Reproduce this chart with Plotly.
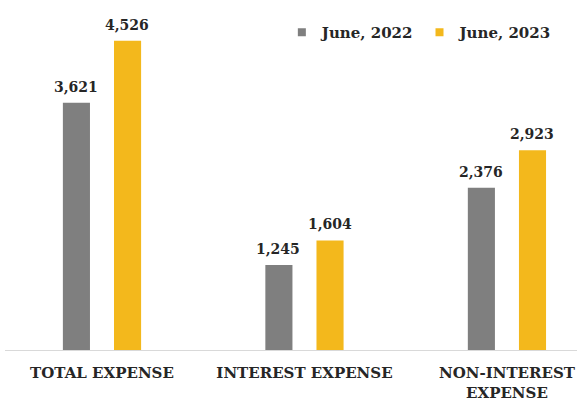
import plotly.graph_objects as go

# Expense comparison, June 2022 vs June 2023
categories = ["TOTAL EXPENSE", "INTEREST EXPENSE", "NON-INTEREST<br>EXPENSE"]
series_names = ["June, 2022", "June, 2023"]
values_2022 = [3621, 1245, 2376]
values_2023 = [4526, 1604, 2923]

colors = ["#7f7f7f", "#f3b81c"]
font_family = "DejaVu Serif"
text_color = "#262626"

fig = go.Figure()
for name, vals, col in zip(series_names, [values_2022, values_2023], colors):
    fig.add_trace(go.Bar(
        x=categories, y=vals, name=name, marker_color=col,
        marker_line_width=0, showlegend=False,
    ))
    # legend entries with small square swatches
    fig.add_trace(go.Scatter(
        x=[None], y=[None], mode="markers", name=name,
        marker=dict(symbol="square", size=8, color=col),
        showlegend=True,
    ))

# value labels above each bar
for vals, shift in [(values_2022, -26), (values_2023, 25.5)]:
    for cat, v in zip(categories, vals):
        fig.add_annotation(
            x=cat, y=v, text=f"{v:,}", showarrow=False,
            xshift=shift, yshift=16, yanchor="middle",
            font=dict(family=font_family, size=14, color=text_color, weight="bold"),
        )

fig.update_layout(
    width=577, height=400,
    margin=dict(l=5, r=0, t=10, b=50, autoexpand=False),
    paper_bgcolor="white", plot_bgcolor="white",
    barmode="group", bargap=0.495, bargroupgap=0.47,
    legend=dict(
        orientation="h", x=0.484, y=0.982, xanchor="left", yanchor="top",
        font=dict(family=font_family, size=15, color=text_color, weight="bold"),
        itemwidth=30, bgcolor="rgba(0,0,0,0)",
    ),
    xaxis=dict(
        range=[-0.479, 2.346], showline=True, linecolor="#d9d9d9", linewidth=1,
        showgrid=False, ticks="", ticklabelstandoff=9, automargin=False,
        tickfont=dict(family=font_family, size=15, color=text_color, weight="bold"),
    ),
    yaxis=dict(range=[0, 4978], visible=False, showgrid=False, zeroline=False),
)

fig.write_html("out.html")
